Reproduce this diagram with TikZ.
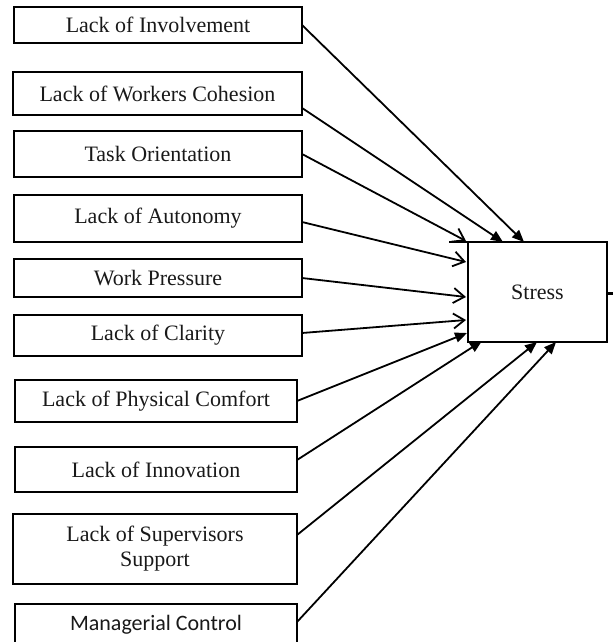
\documentclass[tikz,border=0pt]{standalone}
\usepackage{fontspec}
\setmainfont{Liberation Serif}
\newfontfamily\calibrifont{Carlito}
\usetikzlibrary{arrows.meta,calc}
\tikzset{
  factor/.style={draw, line width=1pt, outer sep=0pt, inner sep=0pt, align=center,
    text=black!90, font=\fontsize{11}{12.5}\selectfont},
  link/.style={line width=0.9pt},
  solidtip/.style={link, -{Triangle[length=6pt,width=5pt]}},
  opentip/.style={link, -{Straight Barb[length=5.5pt,width=7.5pt]}},
}
\begin{document}
\begin{tikzpicture}[x=0.5pt,y=0.5pt,yscale=-1,xscale=1]
\useasboundingbox (0,0) rectangle (613,642);

% Text Node
\node (inv) [factor, minimum width=144pt, minimum height=18pt] at (158,25) {Lack of Involvement};
% Text Node
\node (coh) [factor, minimum width=144.5pt, minimum height=21.5pt] at (157.5,93.5) {Lack of Workers Cohesion};
% Text Node
\node (task) [factor, minimum width=144pt, minimum height=23pt] at (158,154) {Task Orientation};
% Text Node
\node (aut) [factor, minimum width=144pt, minimum height=23.5pt] at (158,218.5) {Lack of Autonomy};
% Text Node
\node (work) [factor, minimum width=144pt, minimum height=19pt] at (158,278) {Work Pressure};
% Text Node
\node (clar) [factor, minimum width=144pt, minimum height=20.5pt] at (158,335.5) {Lack of Clarity};
% Text Node
\node (phys) [factor, minimum width=141pt, minimum height=21pt] at (156,401) {Lack of Physical Comfort};
% Text Node
\node (innov) [factor, minimum width=141pt, minimum height=22.5pt] at (156,469.5) {Lack of Innovation};
% Text Node
\node (sup) [factor, minimum width=142pt, minimum height=35pt] at (155,549) {Lack of Supervisors\\Support};
% Text Node
\node (mgr) [factor, minimum width=141pt, minimum height=20.5pt, font=\calibrifont\fontsize{11}{12.5}\selectfont] at (156,624.5) {Managerial Control};

% Text Node
\node (stress) [factor, minimum width=69.5pt, minimum height=50pt] at (537.5,292) {Stress};
\draw [line width=1pt] (stress.north west) -- ++(-19,0) ;
\coordinate (out) at (613,293);
\draw [line width=1.5pt] (stress.east |- out) -- (out) ;

%Straight Lines
\draw [solidtip] (inv.east) -- ($(stress.north west)+(56,0)$) ;
\draw [solidtip] ($(coh.east)+(0,14.5)$) -- ($(stress.north west)+(35,0)$) ;
\draw [opentip] (task.east) -- ($(stress.north west)+(-2,-1)$) ;
\draw [opentip] ($(aut.east)+(0,3.5)$) -- ($(stress.west)+(-2,-30)$) ;
\draw [opentip] (work.east) -- ($(stress.west)+(-2,5)$) ;
\draw [opentip] ($(clar.east)+(0,-2.5)$) -- ($(stress.west)+(-2,28)$) ;
\draw [solidtip] (phys.east) -- ($(stress.south west)+(-1,-9)$) ;
\draw [solidtip] ($(innov.east)+(0,-9.5)$) -- ($(stress.south west)+(14,-1)$) ;
\draw [solidtip] ($(sup.east)+(0,-14)$) -- ($(stress.south west)+(69,0)$) ;
\draw [solidtip] ($(mgr.east)+(0,-2.5)$) -- ($(stress.south west)+(88,0)$) ;

\end{tikzpicture}
\end{document}
